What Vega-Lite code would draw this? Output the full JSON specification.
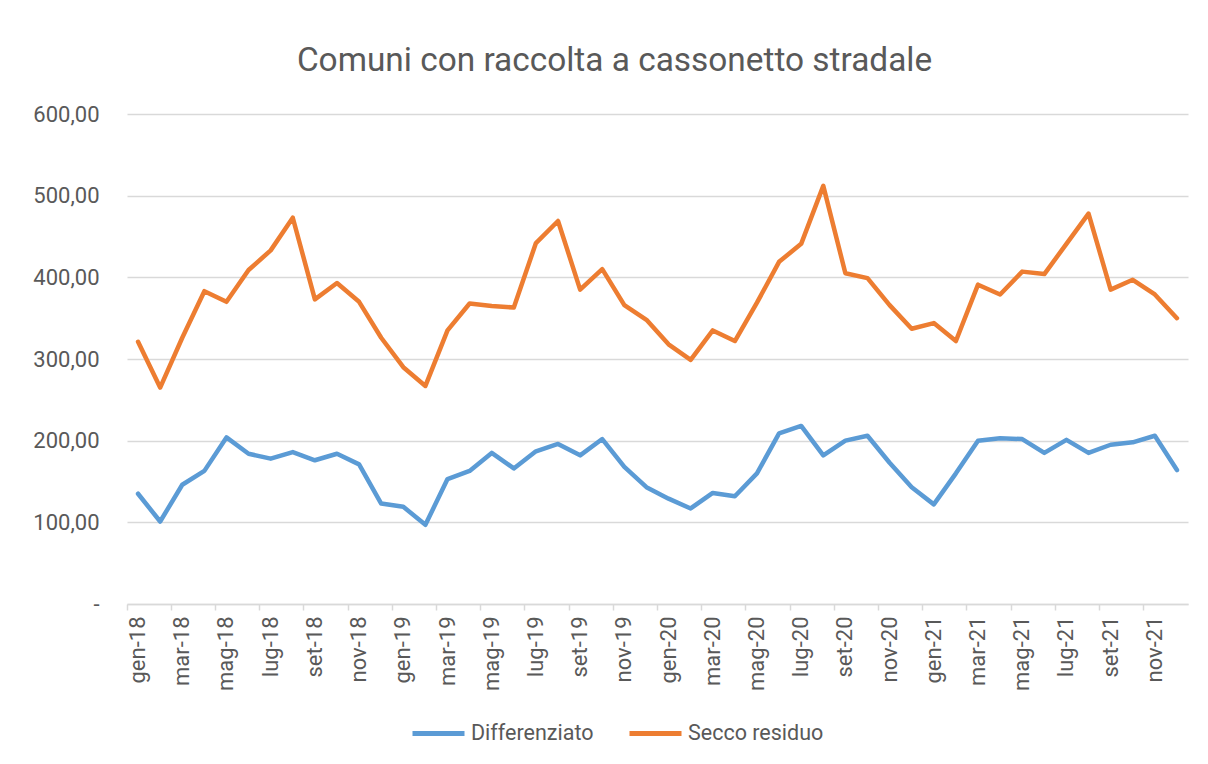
{
  "$schema": "https://vega.github.io/schema/vega-lite/v6.json",
  "autosize": {"type": "none"},
  "width": 1061,
  "height": 490,
  "padding": {"left": 127, "top": 114, "right": 20, "bottom": 160},
  "background": "white",
  "title": {
    "text": "Comuni con raccolta a cassonetto stradale",
    "anchor": "middle",
    "dx": -43,
    "font": "Roboto",
    "fontSize": 33.4,
    "fontWeight": "normal",
    "color": "#595959",
    "offset": 25
  },
  "data": {
    "values": [
      {"mese": "gen-18", "Differenziato": 135, "Secco residuo": 321},
      {"mese": "feb-18", "Differenziato": 101, "Secco residuo": 265},
      {"mese": "mar-18", "Differenziato": 146, "Secco residuo": 326},
      {"mese": "apr-18", "Differenziato": 163, "Secco residuo": 383},
      {"mese": "mag-18", "Differenziato": 204, "Secco residuo": 370},
      {"mese": "giu-18", "Differenziato": 184, "Secco residuo": 409},
      {"mese": "lug-18", "Differenziato": 178, "Secco residuo": 433},
      {"mese": "ago-18", "Differenziato": 186, "Secco residuo": 473},
      {"mese": "set-18", "Differenziato": 176, "Secco residuo": 373},
      {"mese": "ott-18", "Differenziato": 184, "Secco residuo": 393},
      {"mese": "nov-18", "Differenziato": 171, "Secco residuo": 370},
      {"mese": "dic-18", "Differenziato": 123, "Secco residuo": 326},
      {"mese": "gen-19", "Differenziato": 119, "Secco residuo": 290},
      {"mese": "feb-19", "Differenziato": 97, "Secco residuo": 267},
      {"mese": "mar-19", "Differenziato": 153, "Secco residuo": 335},
      {"mese": "apr-19", "Differenziato": 163, "Secco residuo": 368},
      {"mese": "mag-19", "Differenziato": 185, "Secco residuo": 365},
      {"mese": "giu-19", "Differenziato": 166, "Secco residuo": 363},
      {"mese": "lug-19", "Differenziato": 187, "Secco residuo": 442},
      {"mese": "ago-19", "Differenziato": 196, "Secco residuo": 469},
      {"mese": "set-19", "Differenziato": 182, "Secco residuo": 385},
      {"mese": "ott-19", "Differenziato": 202, "Secco residuo": 410},
      {"mese": "nov-19", "Differenziato": 168, "Secco residuo": 366},
      {"mese": "dic-19", "Differenziato": 143, "Secco residuo": 348},
      {"mese": "gen-20", "Differenziato": 129, "Secco residuo": 318},
      {"mese": "feb-20", "Differenziato": 117, "Secco residuo": 299},
      {"mese": "mar-20", "Differenziato": 136, "Secco residuo": 335},
      {"mese": "apr-20", "Differenziato": 132, "Secco residuo": 322},
      {"mese": "mag-20", "Differenziato": 160, "Secco residuo": 369},
      {"mese": "giu-20", "Differenziato": 209, "Secco residuo": 419},
      {"mese": "lug-20", "Differenziato": 218, "Secco residuo": 441},
      {"mese": "ago-20", "Differenziato": 182, "Secco residuo": 512},
      {"mese": "set-20", "Differenziato": 200, "Secco residuo": 405},
      {"mese": "ott-20", "Differenziato": 206, "Secco residuo": 399},
      {"mese": "nov-20", "Differenziato": 173, "Secco residuo": 366},
      {"mese": "dic-20", "Differenziato": 143, "Secco residuo": 337},
      {"mese": "gen-21", "Differenziato": 122, "Secco residuo": 344},
      {"mese": "feb-21", "Differenziato": 160, "Secco residuo": 322},
      {"mese": "mar-21", "Differenziato": 200, "Secco residuo": 391},
      {"mese": "apr-21", "Differenziato": 203, "Secco residuo": 379},
      {"mese": "mag-21", "Differenziato": 202, "Secco residuo": 407},
      {"mese": "giu-21", "Differenziato": 185, "Secco residuo": 404},
      {"mese": "lug-21", "Differenziato": 201, "Secco residuo": 441},
      {"mese": "ago-21", "Differenziato": 185, "Secco residuo": 478},
      {"mese": "set-21", "Differenziato": 195, "Secco residuo": 385},
      {"mese": "ott-21", "Differenziato": 198, "Secco residuo": 397},
      {"mese": "nov-21", "Differenziato": 206, "Secco residuo": 379},
      {"mese": "dic-21", "Differenziato": 164, "Secco residuo": 350}
    ]
  },
  "transform": [
    {"fold": ["Differenziato", "Secco residuo"], "as": ["serie", "valore"]}
  ],
  "mark": {"type": "line", "strokeWidth": 4.5, "strokeCap": "round", "strokeJoin": "round"},
  "encoding": {
    "x": {
      "field": "mese",
      "type": "ordinal",
      "sort": null,
      "scale": {"type": "band", "paddingInner": 0, "paddingOuter": 0},
      "axis": {
        "title": null,
        "values": ["gen-18","mar-18","mag-18","lug-18","set-18","nov-18","gen-19","mar-19","mag-19","lug-19","set-19","nov-19","gen-20","mar-20","mag-20","lug-20","set-20","nov-20","gen-21","mar-21","mag-21","lug-21","set-21","nov-21"],
        "bandPosition": 0,
        "labelAngle": 270,
        "labelAlign": "right",
        "labelBaseline": "middle",
        "labelFont": "Roboto",
        "labelFontSize": 22,
        "labelColor": "#595959",
        "labelPadding": 6,
        "tickSize": 6,
        "tickColor": "#d9d9d9",
        "tickWidth": 1.5,
        "domainColor": "#d9d9d9",
        "domainWidth": 1.5,
        "grid": false
      }
    },
    "y": {
      "field": "valore",
      "type": "quantitative",
      "scale": {"domain": [0, 600], "nice": false},
      "axis": {
        "title": null,
        "values": [0, 100, 200, 300, 400, 500, 600],
        "labelExpr": "datum.value == 0 ? '-' : replace(format(datum.value, '.2f'), '.', ',')",
        "labelFont": "Roboto",
        "labelFontSize": 22,
        "labelColor": "#595959",
        "labelPadding": 28,
        "ticks": false,
        "domain": false,
        "grid": true,
        "gridColor": "#d9d9d9",
        "gridWidth": 1.5
      }
    },
    "color": {
      "field": "serie",
      "type": "nominal",
      "scale": {"domain": ["Differenziato", "Secco residuo"], "range": ["#5B9BD5", "#ED7D31"]},
      "legend": {
        "title": null,
        "orient": "none",
        "direction": "horizontal",
        "legendX": 283,
        "legendY": 591,
        "symbolType": "stroke",
        "symbolSize": 2704,
        "symbolStrokeWidth": 5,
        "labelFont": "Roboto",
        "labelFontSize": 21.5,
        "labelColor": "#595959",
        "labelOffset": 4,
        "columnPadding": 25
      }
    }
  },
  "config": {"view": {"stroke": null}}
}
